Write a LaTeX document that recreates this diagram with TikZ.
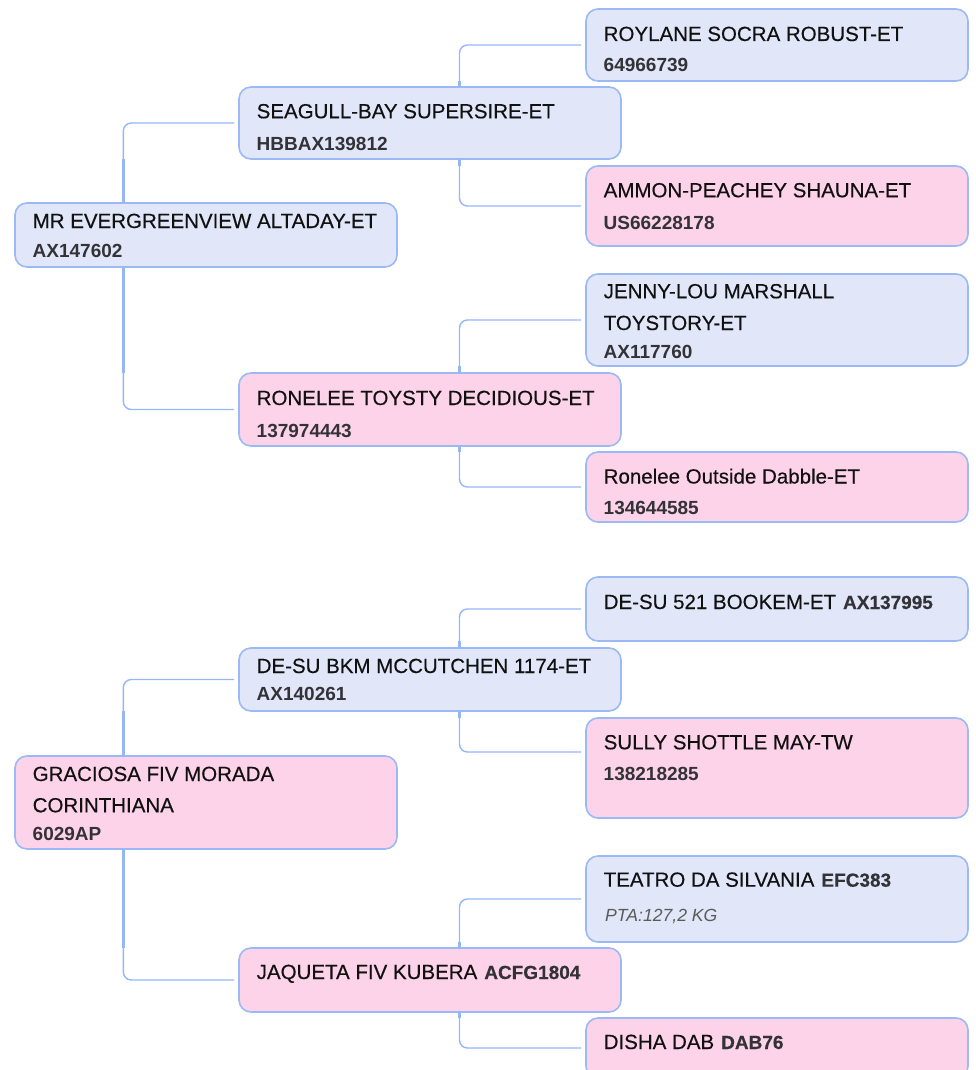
\documentclass[tikz,border=0pt]{standalone}
\usepackage{fontspec}
\setmainfont{Liberation Sans}
\newfontfamily\namefont[FakeBold=0.35]{Liberation Sans}
\usetikzlibrary{calc}
\definecolor{bluef}{RGB}{225,231,249}
\definecolor{pinkf}{RGB}{253,211,233}
\definecolor{bordc}{RGB}{155,185,245}
\definecolor{linec}{RGB}{150,182,250}
\definecolor{namec}{RGB}{17,17,17}
\definecolor{idc}{RGB}{50,50,55}
\definecolor{ptac}{RGB}{90,90,90}
\newcommand\myid{\fontsize{19}{22}\selectfont\bfseries\color{idc}}
\tikzset{
  box/.style={draw=bordc, line width=1.6pt, rounded corners=12pt, minimum width=382pt, inner sep=0pt, outer sep=0pt, anchor=north west},
  bluebox/.style={box, fill=bluef},
  pinkbox/.style={box, fill=pinkf},
  nm/.style={anchor=base west, inner sep=0pt, font=\namefont\fontsize{20.5}{24}\selectfont, text=namec},
  idt/.style={anchor=base west, inner sep=0pt, font=\myid},
  pta/.style={anchor=base west, inner sep=0pt, font=\fontsize{17.6}{21}\selectfont\itshape, text=ptac},
  conn/.style={draw=linec, line width=1.4pt, rounded corners=8pt, shorten >=5pt},
  trunk/.style={draw=linec, line width=3pt},
}
\begin{document}
\begin{tikzpicture}[x=1pt,y=-1pt]
\useasboundingbox (0,0) rectangle (976,1070);
\clip (0,0) rectangle (976,1070);

% ---------- boxes ----------
\node[bluebox, minimum height=72pt] (roylane) at (586,9) {};
\node[bluebox, minimum height=72pt] (seagull) at (239,87) {};
\node[pinkbox, minimum height=80pt] (ammon) at (586,166) {};
\node[bluebox, minimum height=64pt] (mr) at (15,203) {};
\node[bluebox, minimum height=92pt] (jenny) at (586,274) {};
\node[pinkbox, minimum height=73pt] (ronelee) at (239,373) {};
\node[pinkbox, minimum height=70pt] (rono) at (586,452) {};
\node[bluebox, minimum height=64pt] (desua) at (586,577) {};
\node[bluebox, minimum height=63pt] (desub) at (239,648) {};
\node[pinkbox, minimum height=100pt] (sully) at (586,718) {};
\node[pinkbox, minimum height=93pt] (grac) at (15,756) {};
\node[bluebox, minimum height=86pt] (teatro) at (586,856) {};
\node[pinkbox, minimum height=64pt] (jaq) at (239,948) {};
\node[pinkbox, minimum height=60pt] (disha) at (586,1018) {};

% ---------- texts ----------
\node[nm] (roylane-n) at (603.5,41) {ROYLANE SOCRA ROBUST-ET};
\node[idt] (roylane-i) at (603.5,72) {64966739};
\node[nm] (seagull-n) at (256.5,118.3) {SEAGULL-BAY SUPERSIRE-ET};
\node[idt] (seagull-i) at (256.5,150.7) {HBBAX139812};
\node[nm] (ammon-n) at (603.5,197.3) {AMMON-PEACHEY SHAUNA-ET};
\node[idt] (ammon-i) at (603.5,229) {US66228178};
\node[nm] (mr-n) at (32.5,228) {MR EVERGREENVIEW ALTADAY-ET};
\node[idt] (mr-i) at (32.5,257) {AX147602};
\node[nm] (jenny-n1) at (603.5,298.3) {JENNY-LOU MARSHALL};
\node[nm] (jenny-n2) at (603.5,330) {TOYSTORY-ET};
\node[idt] (jenny-i) at (603.5,358.3) {AX117760};
\node[nm] (ronelee-n) at (256.5,405) {RONELEE TOYSTY DECIDIOUS-ET};
\node[idt] (ronelee-i) at (256.5,437.3) {137974443};
\node[nm] (rono-n) at (603.5,483.5) {Ronelee Outside Dabble-ET};
\node[idt] (rono-i) at (603.5,514) {134644585};
\node[nm] (desua-n) at (603.5,609) {DE-SU 521 BOOKEM-ET\hspace{7pt}{\myid AX137995}};
\node[nm] (desub-n) at (256.5,673) {DE-SU BKM MCCUTCHEN 1174-ET};
\node[idt] (desub-i) at (256.5,700.7) {AX140261};
\node[nm] (sully-n) at (603.5,749.3) {SULLY SHOTTLE MAY-TW};
\node[idt] (sully-i) at (603.5,780.7) {138218285};
\node[nm] (grac-n1) at (32.5,781) {GRACIOSA FIV MORADA};
\node[nm] (grac-n2) at (32.5,812.3) {CORINTHIANA};
\node[idt] (grac-i) at (32.5,840) {6029AP};
\node[nm] (teatro-n) at (603.5,886.7) {TEATRO DA SILVANIA\hspace{7pt}{\myid EFC383}};
\node[pta] (teatro-p) at (605,921) {PTA:127,2 KG};
\node[nm] (jaq-n) at (256.5,979) {JAQUETA FIV KUBERA\hspace{7pt}{\myid ACFG1804}};
\node[nm] (disha-n) at (603.5,1049) {DISHA DAB\hspace{7pt}{\myid DAB76}};

% ---------- trunk points ----------
\coordinate (mrT) at ([xshift=108.3pt]mr.north west);
\coordinate (mrB) at ([xshift=108.3pt]mr.south west);
\coordinate (gracT) at ([xshift=108.3pt]grac.north west);
\coordinate (gracB) at ([xshift=108.3pt]grac.south west);
\coordinate (seaT) at ([xshift=220.5pt]seagull.north west);
\coordinate (seaB) at ([xshift=220.5pt]seagull.south west);
\coordinate (ronT) at ([xshift=220.5pt]ronelee.north west);
\coordinate (ronB) at ([xshift=220.5pt]ronelee.south west);
\coordinate (desubT) at ([xshift=220.5pt]desub.north west);
\coordinate (desubB) at ([xshift=220.5pt]desub.south west);
\coordinate (jaqT) at ([xshift=220.5pt]jaq.north west);
\coordinate (jaqB) at ([xshift=220.5pt]jaq.south west);
\coordinate (sullyC) at ([yshift=-34pt]sully.north west);
\coordinate (dishaC) at ([yshift=-30pt]disha.north west);

% ---------- connectors ----------
\draw[conn] (mrT) |- (seagull.west);
\draw[conn] (mrB) |- (ronelee.west);
\draw[trunk] (mrT) -- (mrT |- seagull.south);
\draw[trunk] (mrB) -- (mrB |- ronelee.north);

\draw[conn] (seaT) |- (roylane.west);
\draw[conn] (seaB) |- (ammon.west);
\draw[trunk] (seaT) -- (seaT |- roylane.south);
\draw[trunk] (seaB) -- (seaB |- ammon.north);

\draw[conn] (ronT) |- (jenny.west);
\draw[conn] (ronB) |- (rono.west);
\draw[trunk] (ronT) -- (ronT |- jenny.south);
\draw[trunk] (ronB) -- (ronB |- rono.north);

\draw[conn] (gracT) |- (desub.west);
\draw[conn] (gracB) |- (jaq.west);
\draw[trunk] (gracT) -- (gracT |- desub.south);
\draw[trunk] (gracB) -- (gracB |- jaq.north);

\draw[conn] (desubT) |- (desua.west);
\draw[conn] (desubB) |- (sullyC);
\draw[trunk] (desubT) -- (desubT |- desua.south);
\draw[trunk] (desubB) -- (desubB |- sully.north);

\draw[conn] (jaqT) |- (teatro.west);
\draw[conn] (jaqB) |- (dishaC);
\draw[trunk] (jaqT) -- (jaqT |- teatro.south);
\draw[trunk] (jaqB) -- (jaqB |- disha.north);
\end{tikzpicture}
\end{document}
